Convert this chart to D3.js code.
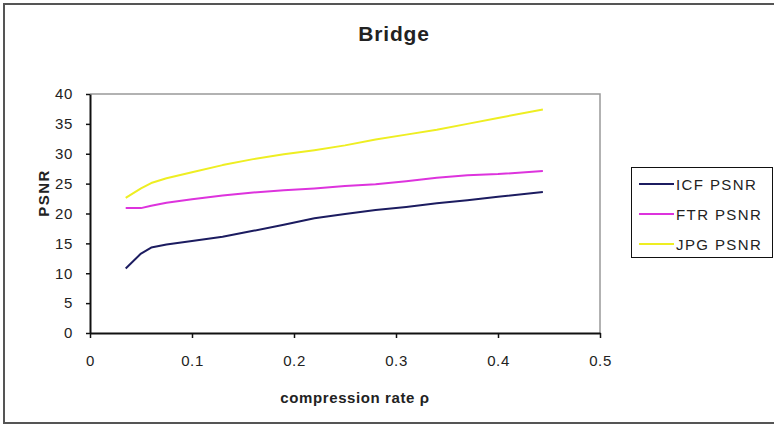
<!DOCTYPE html>
<html>
<head>
<meta charset="utf-8">
<script src="https://cdn.jsdelivr.net/npm/d3@7"></script>
<style>
  body { margin: 0; background: #fff; }
  text { font-family: "Liberation Sans", Arial, sans-serif; fill: #222; }
</style>
</head>
<body>
<div id="chart"></div>
<script>
// compression rate values along the x axis
var rho = [0.035, 0.05, 0.06, 0.075, 0.1, 0.13, 0.16, 0.19, 0.22, 0.25, 0.28, 0.31, 0.34, 0.37, 0.4, 0.444];
var icfPsnr = [10.8, 13.3, 14.3, 14.8, 15.4, 16.1, 17.1, 18.1, 19.2, 19.9, 20.6, 21.1, 21.7, 22.2, 22.8, 23.6];
var ftrPsnr = [20.9, 20.9, 21.3, 21.8, 22.4, 23.0, 23.5, 23.9, 24.2, 24.6, 24.9, 25.4, 26.0, 26.4, 26.6, 27.1];
var jpgPsnr = [22.6, 24.2, 25.1, 25.9, 26.9, 28.1, 29.1, 29.9, 30.6, 31.4, 32.4, 33.2, 34.0, 35.0, 36.0, 37.4];
var seriesNames = ["ICF PSNR", "FTR PSNR", "JPG PSNR"];
var xTicks = [0, 0.1, 0.2, 0.3, 0.4, 0.5];
var yTicks = [0, 5, 10, 15, 20, 25, 30, 35, 40];

function drawBridgeChart() {
    const W = 774, H = 425;
    const margin = { top: 94, right: 174, bottom: 92, left: 90 };
    const width = W - margin.left - margin.right;
    const height = H - margin.top - margin.bottom;
    const colors = ["#1c1c60", "#dd33dd", "#eeee22"];
    const allSeries = [icfPsnr, ftrPsnr, jpgPsnr];

    d3.select("#chart").selectAll("*").remove();

    const root = d3.select("#chart")
        .append("svg")
        .attr("width", W)
        .attr("height", H);

    // outer chart frame
    root.append("rect")
        .attr("x", 4).attr("y", 4)
        .attr("width", W + 10).attr("height", 419)
        .attr("fill", "none")
        .attr("stroke", "#555")
        .attr("stroke-width", 2);

    const svg = root.append("g")
        .attr("transform", `translate(${margin.left}, ${margin.top})`);

    const xScale = d3.scaleLinear().domain([0, 0.5]).range([0, width]);
    const yScale = d3.scaleLinear().domain([0, 40]).range([height, 0]);

    // plot area border (top and right are grey)
    svg.append("path")
        .attr("d", `M0,0H${width}V${height}`)
        .attr("fill", "none")
        .attr("stroke", "#999")
        .attr("stroke-width", 1.5);

    // axes
    const xAxis = svg.append("g")
        .attr("transform", `translate(0, ${height})`)
        .call(d3.axisBottom(xScale).tickValues(xTicks).tickFormat(d => d === 0 ? "0" : d3.format(".1f")(d))
            .tickSize(5).tickSizeOuter(0).tickPadding(17));

    const yAxis = svg.append("g")
        .call(d3.axisLeft(yScale).tickValues(yTicks).tickSize(4).tickSizeOuter(0).tickPadding(13));

    [xAxis, yAxis].forEach(ax => {
        ax.select(".domain").attr("stroke", "#111").attr("stroke-width", 2);
        ax.selectAll(".tick line").attr("stroke", "#111").attr("stroke-width", 1.5);
        ax.selectAll(".tick text")
            .style("font-family", "'Liberation Sans', Arial, sans-serif")
            .style("font-size", "15px")
            .style("letter-spacing", "0.6px")
            .attr("fill", "#222");
    });

    // lines
    const line = d3.line()
        .x((d, i) => xScale(rho[i]))
        .y(d => yScale(d));

    allSeries.forEach((s, k) => {
        svg.append("path")
            .datum(s)
            .attr("fill", "none")
            .attr("stroke", colors[k])
            .attr("stroke-width", 2)
            .attr("stroke-linejoin", "round")
            .attr("d", line);
    });

    // axis labels
    svg.append("text")
        .attr("x", width / 2 + 10)
        .attr("y", height + 70)
        .attr("text-anchor", "middle")
        .style("font-size", "15px")
        .style("font-weight", "bold")
        .style("letter-spacing", "0.6px")
        .text("compression rate \u03c1");

    svg.append("text")
        .attr("transform", "rotate(-90)")
        .attr("x", -99)
        .attr("y", -41)
        .attr("text-anchor", "middle")
        .style("font-size", "15px")
        .style("font-weight", "bold")
        .style("letter-spacing", "1.5px")
        .text("PSNR");

    // title
    root.append("text")
        .attr("x", 394)
        .attr("y", 41)
        .attr("text-anchor", "middle")
        .style("font-size", "21px")
        .style("font-weight", "bold")
        .style("letter-spacing", "0.8px")
        .text("Bridge");

    // legend
    const legend = root.append("g");
    legend.append("rect")
        .attr("x", 631.5).attr("y", 167.5)
        .attr("width", 141).attr("height", 90)
        .attr("fill", "#fff")
        .attr("stroke", "#111")
        .attr("stroke-width", 1);

    seriesNames.forEach((name, index) => {
        const cy = 184 + index * 30;
        legend.append("line")
            .attr("x1", 639).attr("x2", 674)
            .attr("y1", cy).attr("y2", cy)
            .attr("stroke", colors[index])
            .attr("stroke-width", 2);
        legend.append("text")
            .attr("x", 676)
            .attr("y", cy + 5.5)
            .style("font-size", "15px")
            .style("letter-spacing", "1.4px")
            .text(name);
    });
}

drawBridgeChart();
</script>
</body>
</html>
